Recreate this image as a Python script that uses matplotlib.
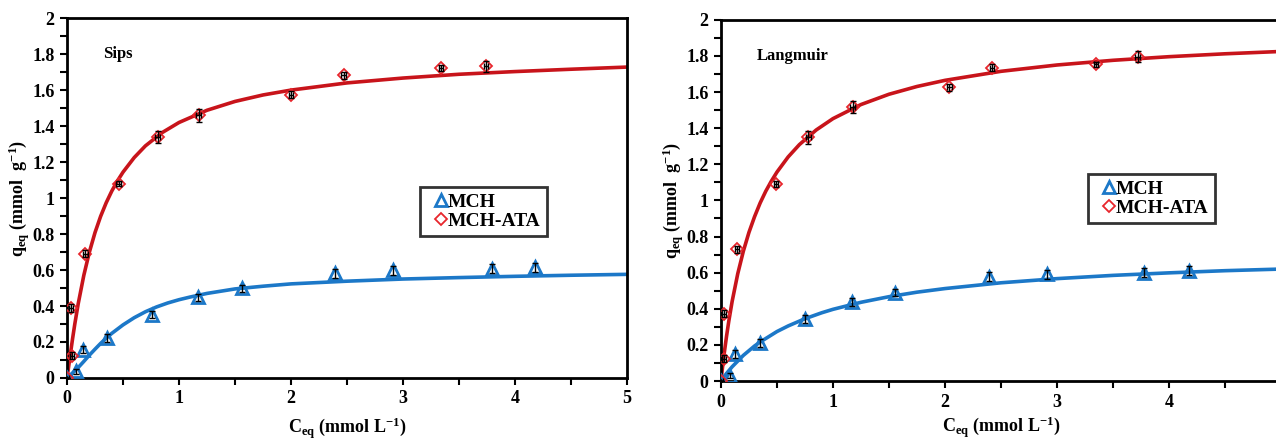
import matplotlib
matplotlib.use("Agg")
import matplotlib.pyplot as plt
from matplotlib.ticker import MultipleLocator
from matplotlib.lines import Line2D

plt.rcParams["font.family"] = "Liberation Serif"
plt.rcParams["font.weight"] = "bold"
plt.rcParams["mathtext.fontset"] = "custom"
plt.rcParams["mathtext.rm"] = "Liberation Serif:bold"
plt.rcParams["mathtext.it"] = "Liberation Serif:bold"
plt.rcParams["mathtext.bf"] = "Liberation Serif:bold"

# ===== experimental points (read per panel) =====
sips_ata_x = [0, 0.036, 0.047, 0.164, 0.46, 0.81, 1.175, 2.0, 2.47, 3.34, 3.74]
sips_ata_y = [0, 0.389, 0.124, 0.69, 1.08, 1.34, 1.46, 1.574, 1.683, 1.722, 1.733]
sips_mch_x = [0, 0.084, 0.139, 0.354, 0.76, 1.17, 1.56, 2.39, 2.91, 3.79, 4.18]
sips_mch_y = [0, 0.037, 0.157, 0.222, 0.352, 0.448, 0.498, 0.583, 0.598, 0.606, 0.615]

lang_ata_x = [0, 0.025, 0.025, 0.145, 0.49, 0.78, 1.175, 2.04, 2.42, 3.35, 3.72]
lang_ata_y = [0, 0.372, 0.123, 0.73, 1.09, 1.35, 1.517, 1.626, 1.734, 1.753, 1.797]
lang_mch_x = [0, 0.08, 0.127, 0.353, 0.753, 1.167, 1.553, 2.39, 2.91, 3.78, 4.18]
lang_mch_y = [0, 0.03, 0.15, 0.21, 0.344, 0.437, 0.49, 0.577, 0.59, 0.60, 0.61]

ata_yerr = [0, 0.02, 0.02, 0.02, 0.015, 0.035, 0.035, 0.02, 0.02, 0.015, 0.03]
mch_yerr = [0, 0.015, 0.02, 0.02, 0.02, 0.02, 0.02, 0.025, 0.025, 0.025, 0.025]

# ===== fitted curves =====
sips_ata_cx = [0, 0.01, 0.02, 0.03, 0.05, 0.07, 0.1, 0.15, 0.2, 0.25, 0.3, 0.35, 0.4,
               0.45, 0.5, 0.6, 0.7, 0.85, 1, 1.25, 1.5, 1.75, 2, 2.5, 3, 3.5, 4, 4.5, 5]
sips_ata_cy = [0, 0.042, 0.087, 0.132, 0.219, 0.301, 0.412, 0.570, 0.700, 0.808, 0.898,
               0.974, 1.039, 1.095, 1.144, 1.225, 1.290, 1.364, 1.420, 1.488, 1.537,
               1.573, 1.600, 1.640, 1.667, 1.688, 1.703, 1.716, 1.728]
sips_mch_cx = [0, 0.05, 0.1, 0.15, 0.2, 0.25, 0.3, 0.35, 0.4, 0.5, 0.6, 0.7, 0.8, 0.9,
               1.0, 1.1, 1.25, 1.5, 1.75, 2, 2.5, 3, 3.5, 4, 4.5, 5]
sips_mch_cy = [0, 0.028, 0.058, 0.092, 0.127, 0.160, 0.192, 0.221, 0.248, 0.295, 0.335,
               0.368, 0.395, 0.417, 0.435, 0.450, 0.470, 0.495, 0.510, 0.523, 0.538,
               0.550, 0.558, 0.565, 0.571, 0.576]

lang_ata_cx = [0, 0.02, 0.03, 0.05, 0.07, 0.1, 0.15, 0.2, 0.25, 0.3, 0.35, 0.4, 0.45,
               0.5, 0.6, 0.7, 0.85, 1, 1.25, 1.5, 1.75, 2, 2.5, 3, 3.5, 4, 4.5, 5]
lang_ata_cy = [0, 0.108, 0.157, 0.248, 0.331, 0.441, 0.594, 0.719, 0.823, 0.910, 0.986,
               1.051, 1.107, 1.157, 1.241, 1.309, 1.390, 1.453, 1.531, 1.588, 1.631,
               1.665, 1.715, 1.750, 1.776, 1.796, 1.812, 1.825]
lang_mch_cx = [0, 0.05, 0.1, 0.2, 0.3, 0.35, 0.5, 0.6, 0.75, 0.9, 1, 1.25, 1.5, 1.75,
               2, 2.5, 3, 3.5, 4, 4.5, 5]
lang_mch_cy = [0, 0.042, 0.079, 0.142, 0.194, 0.216, 0.274, 0.305, 0.345, 0.378, 0.397,
               0.436, 0.467, 0.492, 0.512, 0.544, 0.567, 0.585, 0.599, 0.611, 0.620]

RED = "#e8262c"
RED_LINE = "#c8141b"
BLUE = "#1c78c8"

fig = plt.figure(figsize=(12.76, 4.41), dpi=100)

panels = [
    ([0.0525, 0.1429, 0.439, 0.816], "Sips",
     sips_mch_x, sips_mch_y, sips_ata_x, sips_ata_y,
     sips_mch_cx, sips_mch_cy, sips_ata_cx, sips_ata_cy, (0.630, 0.530), 6),
    ([0.565, 0.136, 0.439, 0.819], "Langmuir",
     lang_mch_x, lang_mch_y, lang_ata_x, lang_ata_y,
     lang_mch_cx, lang_mch_cy, lang_ata_cx, lang_ata_cy, (0.655, 0.573), 3),
]

for rect, name, mx, my, ax_, ay, mcx, mcy, acx, acy, leg_pos, xpad in panels:
    ax = fig.add_axes(rect)

    ax.plot(mcx, mcy, color=BLUE, lw=2.6, zorder=2)
    ax.plot(acx, acy, color=RED_LINE, lw=2.6, zorder=2)

    ax.errorbar(mx, my, yerr=mch_yerr, fmt="none", ecolor="black",
                elinewidth=1.0, capsize=2.5, zorder=4)
    ax.plot(mx, my, ls="none", marker="^", ms=8, mfc="none", mec=BLUE,
            mew=2.0, zorder=3)

    ax.errorbar(ax_, ay, yerr=ata_yerr, xerr=0.02, fmt="none", ecolor="black",
                elinewidth=1.0, capsize=2.5, zorder=4)
    ax.plot(ax_, ay, ls="none", marker="D", ms=6.5, mfc="none", mec=RED,
            mew=1.3, zorder=3)

    ax.set_xlim(0, 5)
    ax.set_ylim(0, 2)
    ax.xaxis.set_major_locator(MultipleLocator(1))
    ax.xaxis.set_minor_locator(MultipleLocator(0.5))
    ax.yaxis.set_minor_locator(MultipleLocator(0.1))
    ax.set_yticks([0, 0.2, 0.4, 0.6, 0.8, 1, 1.2, 1.4, 1.6, 1.8, 2])
    ax.set_yticklabels(["0", "0.2", "0.4", "0.6", "0.8", "1", "1.2", "1.4",
                        "1.6", "1.8", "2"])
    ax.tick_params(which="both", direction="out", width=1.5, length=5,
                   labelsize=13, pad=4)
    for s in ax.spines.values():
        s.set_linewidth(2.0)

    ax.set_xlabel(r"$\mathregular{C_{eq}}$ (mmol L$^{-1}$)", fontsize=13,
                  fontweight="bold", labelpad=xpad)
    ax.set_ylabel(r"$\mathregular{q_{eq}}$ (mmol  g$^{-1}$)", fontsize=13,
                  fontweight="bold", labelpad=0)

    ax.text(0.064, 0.90, name, transform=ax.transAxes, fontsize=12,
            fontweight="bold", va="center")

    handles = [
        Line2D([], [], ls="none", marker="^", ms=8, mfc="none", mec=BLUE, mew=2.0),
        Line2D([], [], ls="none", marker="D", ms=6.5, mfc="none", mec=RED, mew=1.3),
    ]
    leg = ax.legend(handles, ["MCH", "MCH-ATA"], loc="upper left",
                    bbox_to_anchor=leg_pos, borderaxespad=0, frameon=True,
                    fancybox=False, edgecolor="black", handlelength=1.55,
                    handletextpad=-0.4, borderpad=0.3, labelspacing=0.1,
                    prop={"family": "Liberation Serif", "weight": "bold", "size": 14})
    leg.get_frame().set_linewidth(2.0)

plt.savefig("out.png", dpi=100)
